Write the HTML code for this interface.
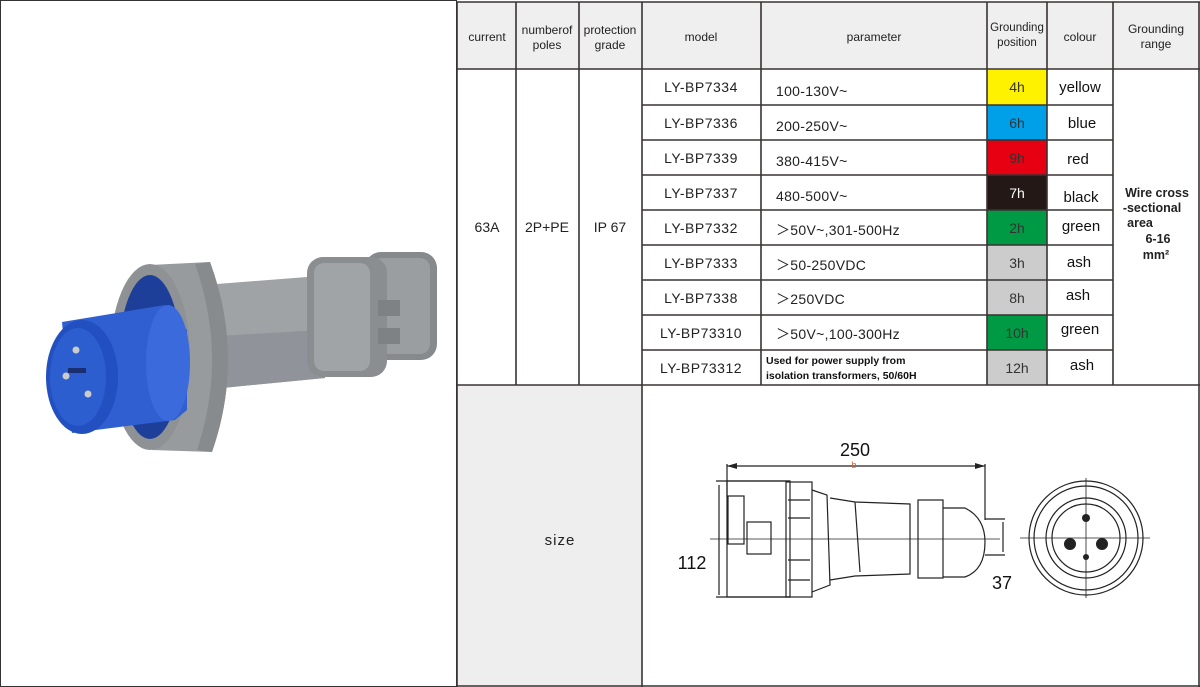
<!DOCTYPE html>
<html><head><meta charset="utf-8"><style>
html,body{margin:0;padding:0;background:#fff;}
svg{display:block;}
text{font-family:"Liberation Sans",sans-serif;}
</style></head><body>
<svg width="1200" height="687" viewBox="0 0 1200 687" xmlns="http://www.w3.org/2000/svg">
<rect x="0.5" y="0.5" width="456" height="686" fill="#fff" stroke="#333" stroke-width="1"/>
<!-- plug -->
<g>
 <rect x="365" y="252" width="72" height="108" rx="16" fill="#868a8d"/>
 <rect x="372" y="258" width="58" height="96" rx="10" fill="#9a9ea1"/>
 <path d="M217 284 L320 276 L325 378 L222 388 Z" fill="#9fa3a6"/>
 <path d="M218 336 L322 330 L325 378 L222 388 Z" fill="#90949a"/>
 <rect x="307" y="257" width="80" height="120" rx="16" fill="#8a8e91"/>
 <rect x="314" y="263" width="56" height="108" rx="10" fill="#a0a4a7"/>
 <rect x="378" y="300" width="22" height="16" fill="#7e8285"/>
 <rect x="378" y="328" width="22" height="16" fill="#7e8285"/>
 <path d="M150 265 L210 262 Q245 357 212 452 L152 450 Z" fill="#979b9e"/>
 <path d="M195 264 Q228 357 197 450 L212 452 Q245 357 210 262 Z" fill="#878b8e"/>
 <ellipse cx="150" cy="357" rx="40" ry="93" fill="#8e9295"/>
 <ellipse cx="150" cy="357" rx="31" ry="82" fill="#1d3f9a"/>
 <path d="M62 322 L165 305 L187 330 L187 410 L175 420 L72 433 Z" fill="#2f5fd0"/>
 <ellipse cx="168" cy="363" rx="22" ry="58" fill="#3a6adc"/>
 <ellipse cx="82" cy="377" rx="36" ry="57" fill="#2350c0"/>
 <ellipse cx="78" cy="377" rx="28" ry="49" fill="#2c5ed0"/>
 <circle cx="76" cy="350" r="3.5" fill="#ccc"/>
 <circle cx="66" cy="376" r="3.5" fill="#ccc"/>
 <circle cx="88" cy="394" r="3.5" fill="#ccc"/>
 <rect x="68" y="368" width="18" height="5" fill="#1a2f70"/>
</g>
<rect x="457" y="2" width="743" height="67" fill="#efefef"/>
<rect x="457" y="385" width="185" height="302" fill="#eeeeee"/>
<rect x="987" y="69" width="60" height="36" fill="#fff200"/>
<rect x="987" y="105" width="60" height="35" fill="#00a0e9"/>
<rect x="987" y="140" width="60" height="35" fill="#e60012"/>
<rect x="987" y="175" width="60" height="35" fill="#231815"/>
<rect x="987" y="210" width="60" height="35" fill="#009a44"/>
<rect x="987" y="245" width="60" height="35" fill="#cccccc"/>
<rect x="987" y="280" width="60" height="35" fill="#cccccc"/>
<rect x="987" y="315" width="60" height="35" fill="#009a44"/>
<rect x="987" y="350" width="60" height="35" fill="#cccccc"/>
<g stroke="#3a3333" stroke-width="1.6" fill="none">
 <line x1="457" y1="2" x2="1200" y2="2"/>
 <line x1="457" y1="69" x2="1200" y2="69"/>
 <line x1="457" y1="385" x2="1200" y2="385"/>
 <line x1="457" y1="686" x2="1200" y2="686"/>
 <line x1="642" y1="105" x2="1113" y2="105"/>
 <line x1="642" y1="140" x2="1113" y2="140"/>
 <line x1="642" y1="175" x2="1113" y2="175"/>
 <line x1="642" y1="210" x2="1113" y2="210"/>
 <line x1="642" y1="245" x2="1113" y2="245"/>
 <line x1="642" y1="280" x2="1113" y2="280"/>
 <line x1="642" y1="315" x2="1113" y2="315"/>
 <line x1="642" y1="350" x2="1113" y2="350"/>
 <line x1="457" y1="2" x2="457" y2="687"/>
 <line x1="516" y1="2" x2="516" y2="385"/>
 <line x1="579" y1="2" x2="579" y2="385"/>
 <line x1="642" y1="2" x2="642" y2="687"/>
 <line x1="761" y1="2" x2="761" y2="385"/>
 <line x1="987" y1="2" x2="987" y2="385"/>
 <line x1="1047" y1="2" x2="1047" y2="385"/>
 <line x1="1113" y1="2" x2="1113" y2="385"/>
 <line x1="1199" y1="2" x2="1199" y2="687"/>
</g>
<g font-size="12" fill="#222" text-anchor="middle">
 <text x="487" y="41">current</text>
 <text x="547" y="34">numberof</text><text x="547" y="49">poles</text>
 <text x="610" y="34">protection</text><text x="610" y="49">grade</text>
 <text x="701" y="41">model</text>
 <text x="874" y="41">parameter</text>
 <text x="1017" y="31" font-size="11.5">Grounding</text><text x="1017" y="46" font-size="11.5">position</text>
 <text x="1080" y="41">colour</text>
 <text x="1156" y="33">Grounding</text><text x="1156" y="48">range</text>
</g>
<g font-size="14" fill="#222" text-anchor="middle">
 <text x="487" y="232">63A</text>
 <text x="547" y="232">2P+PE</text>
 <text x="610" y="232">IP 67</text>
</g>
<g font-size="14" fill="#222" text-anchor="middle" letter-spacing="0.5">
 <text x="701" y="92">LY-BP7334</text>
 <text x="701" y="128">LY-BP7336</text>
 <text x="701" y="163">LY-BP7339</text>
 <text x="701" y="198">LY-BP7337</text>
 <text x="701" y="233">LY-BP7332</text>
 <text x="701" y="268">LY-BP7333</text>
 <text x="701" y="303">LY-BP7338</text>
 <text x="701" y="338">LY-BP73310</text>
 <text x="701" y="373">LY-BP73312</text>
</g>
<g font-size="14" fill="#222" letter-spacing="0.3">
 <text x="776" y="96">100-130V~</text>
 <text x="776" y="131">200-250V~</text>
 <text x="776" y="166">380-415V~</text>
 <text x="776" y="201">480-500V~</text>
 <text x="776" y="235">＞50V~,301-500Hz</text>
 <text x="776" y="270">＞50-250VDC</text>
 <text x="776" y="304">＞250VDC</text>
 <text x="776" y="339">＞50V~,100-300Hz</text>
</g>
<g font-size="10.5" fill="#111" font-weight="bold">
 <text x="766" y="364" font-family="Liberation Mono,monospace">Used for power supply from</text>
 <text x="766" y="379" font-family="Liberation Mono,monospace">isolation transformers, 50/60H</text>
</g>
<g font-size="14" text-anchor="middle">
 <text x="1017" y="92" fill="#333">4h</text>
 <text x="1017" y="128" fill="#333">6h</text>
 <text x="1017" y="163" fill="#333">9h</text>
 <text x="1017" y="198" fill="#fff">7h</text>
 <text x="1017" y="233" fill="#333">2h</text>
 <text x="1017" y="268" fill="#333">3h</text>
 <text x="1017" y="303" fill="#333">8h</text>
 <text x="1017" y="338" fill="#333">10h</text>
 <text x="1017" y="373" fill="#333">12h</text>
</g>
<g font-size="15" fill="#111" text-anchor="middle">
 <text x="1080" y="92" font-family="Liberation Mono,monospace">yellow</text>
 <text x="1082" y="128" font-family="Liberation Mono,monospace">blue</text>
 <text x="1078" y="164" font-family="Liberation Mono,monospace">red</text>
 <text x="1081" y="202" font-family="Liberation Mono,monospace">black</text>
 <text x="1081" y="231" font-family="Liberation Mono,monospace">green</text>
 <text x="1079" y="267" font-family="Liberation Mono,monospace">ash</text>
 <text x="1078" y="300" font-family="Liberation Mono,monospace">ash</text>
 <text x="1080" y="334" font-family="Liberation Mono,monospace">green</text>
 <text x="1082" y="370" font-family="Liberation Mono,monospace">ash</text>
</g>
<g font-size="12.5" fill="#222" text-anchor="middle" font-weight="bold">
 <text x="1157" y="197" font-family="Liberation Mono,monospace">Wire cross</text>
 <text x="1152" y="212" font-family="Liberation Mono,monospace">-sectional</text>
 <text x="1140" y="227" font-family="Liberation Mono,monospace">area</text>
 <text x="1158" y="243" font-family="Liberation Mono,monospace">6-16</text>
 <text x="1156" y="259" font-family="Liberation Mono,monospace">mm²</text>
</g>
<text x="560" y="545" font-size="15" text-anchor="middle" fill="#222" letter-spacing="1">size</text>
<g stroke="#222" stroke-width="1.2" fill="none">
 <line x1="727" y1="466" x2="985" y2="466"/>
 <line x1="727" y1="464" x2="727" y2="497"/>
 <line x1="985" y1="464" x2="985" y2="520"/>
 <line x1="716" y1="481" x2="790" y2="481"/>
 <line x1="716" y1="597" x2="790" y2="597"/>
 <line x1="719" y1="485" x2="719" y2="595"/>
 <rect x="727" y="481" width="63" height="116"/>
 <rect x="728" y="496" width="16" height="48"/>
 <rect x="747" y="522" width="24" height="32"/>
 <rect x="786" y="482" width="26" height="115"/>
 <line x1="788" y1="500" x2="810" y2="500"/>
 <line x1="788" y1="518" x2="810" y2="518"/>
 <line x1="788" y1="560" x2="810" y2="560"/>
 <line x1="788" y1="580" x2="810" y2="580"/>
 <path d="M812 490 L827 495 L830 585 L812 592"/>
 <path d="M830 498 L855 502 L910 504 L910 574 L855 576 L830 580"/>
 <path d="M855 502 L860 572"/>
 <rect x="918" y="500" width="25" height="78"/>
 <path d="M943 508 L965 508 Q985 518 985 542 Q985 570 965 577 L943 577"/>
 <line x1="985" y1="519" x2="1005" y2="519"/>
 <line x1="985" y1="555" x2="1005" y2="555"/>
 <line x1="1003" y1="522" x2="1003" y2="552"/>
 <line x1="710" y1="539" x2="1000" y2="539" stroke-width="0.8"/>
 <circle cx="1086" cy="538" r="57"/>
 <circle cx="1086" cy="538" r="52"/>
 <circle cx="1086" cy="538" r="40"/>
 <circle cx="1086" cy="538" r="34"/>
 <line x1="1020" y1="538" x2="1150" y2="538" stroke-width="0.8"/>
 <line x1="1086" y1="478" x2="1086" y2="598" stroke-width="0.8"/>
</g>
<g fill="#222">
 <circle cx="1086" cy="518" r="4"/>
 <circle cx="1070" cy="544" r="6"/>
 <circle cx="1102" cy="544" r="6"/>
 <circle cx="1086" cy="557" r="3"/>
 <path d="M727 466 l10 -3 v6 z"/><path d="M985 466 l-10 -3 v6 z"/>
</g>
<text x="855" y="456" font-size="18" text-anchor="middle" fill="#111">250</text>
<text x="854" y="468" font-size="9" text-anchor="middle" fill="#d06030">b</text>
<text x="692" y="569" font-size="18" text-anchor="middle" fill="#111">112</text>
<text x="1002" y="589" font-size="18" text-anchor="middle" fill="#111">37</text>
</svg>
</body></html>
